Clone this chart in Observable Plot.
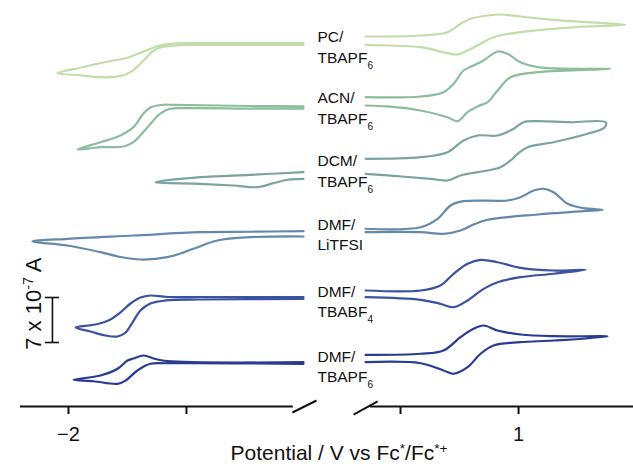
<!DOCTYPE html>
<html><head><meta charset="utf-8">
<script src="https://cdn.jsdelivr.net/npm/d3@7"></script>
<script src="https://cdn.jsdelivr.net/npm/@observablehq/plot@0.6"></script>
<style>body{margin:0;background:#fff;}</style>
</head><body><div id="chart"></div>
<script>
// ---- categories / labels ----
const traces = ["PC/TBAPF6", "ACN/TBAPF6", "DCM/TBAPF6", "DMF/LiTFSI", "DMF/TBABF4", "DMF/TBAPF6"];
const labelTop = ["PC/", "ACN/", "DCM/", "DMF/", "DMF/", "DMF/"];
const labelBottom = ["TBAPF_{6}", "TBAPF_{6}", "TBAPF_{6}", "LiTFSI", "TBABF_{4}", "TBAPF_{6}"];
const labelCurrent = [55.8, 46.3, 36.5, 26.6, 16.2, 6.1];   // 1e-7 A (stacked)
const labelPotential = -0.945;
const palette = ["#c2dda9", "#8dbd9c", "#7aa4a3", "#6489ab", "#3a52a0", "#2a3c90"];

// ---- CV loops: [potential / V vs Fc*/Fc*+, current / 1e-7 A (with stacking offset)] ----
const pcRed = [[-1.004,56.5],[-1.229,56.5],[-1.441,56.5],[-1.555,56.45],[-1.610,56.14],[-1.661,55.52],[-1.703,54.9],[-1.750,54.23],[-1.822,53.73],[-1.936,52.8],[-2.047,51.84],[-1.962,51.55],[-1.864,51.21],[-1.801,51.27],[-1.758,51.63],[-1.729,52.18],[-1.682,53.81],[-1.644,55.21],[-1.610,55.83],[-1.568,56.07],[-1.496,56.22],[-1.229,56.22],[-1.004,56.22]];
const pcOx = [[0.352,57.54],[0.585,57.7],[0.699,58.21],[0.754,59.52],[0.797,60.3],[0.869,60.81],[0.924,60.96],[1.008,60.65],[1.148,60.14],[1.292,59.77],[1.453,59.36],[1.292,59.1],[1.148,58.74],[1.008,58.21],[0.894,57.43],[0.826,56.14],[0.784,55.37],[0.742,54.74],[0.699,54.95],[0.585,55.88],[0.445,56.14],[0.352,56.25]];
const acnRed = [[-1.004,46.66],[-1.229,46.73],[-1.555,46.92],[-1.610,46.89],[-1.653,46.5],[-1.682,45.57],[-1.725,43.44],[-1.780,42.15],[-1.864,41.1],[-1.962,39.97],[-1.864,40.33],[-1.767,40.44],[-1.725,41.1],[-1.665,43.44],[-1.610,45.57],[-1.568,46.3],[-1.496,46.39],[-1.229,46.34],[-1.004,46.34]];
const acnOx = [[0.352,48.1],[0.585,48.21],[0.682,48.88],[0.725,50.19],[0.767,52.25],[0.809,53.03],[0.852,53.81],[0.911,55.21],[0.953,54.85],[1.008,53.55],[1.081,52.77],[1.22,52.52],[1.39,52.52],[1.22,52.25],[1.081,51.99],[0.966,51.21],[0.911,49.14],[0.869,47.32],[0.826,46.66],[0.784,45.77],[0.742,44.37],[0.699,44.99],[0.585,46.03],[0.445,46.66],[0.352,46.81]];
const dcmRed = [[-1.004,36.44],[-1.229,36.03],[-1.441,35.66],[-1.631,34.88],[-1.441,34.63],[-1.301,34.37],[-1.199,34.11],[-1.131,34.73],[-1.072,35.26],[-1.004,35.41]];
const dcmOx = [[0.352,38.52],[0.585,38.77],[0.699,39.55],[0.767,41.37],[0.826,42.15],[0.911,42.15],[0.979,43.19],[1.021,44.21],[1.081,44.37],[1.22,44.21],[1.369,44.21],[1.364,43.39],[1.292,42.41],[1.148,41.1],[1.038,40.33],[0.996,39.3],[0.966,38.26],[0.924,37.22],[0.869,36.7],[0.754,35.93],[0.699,35.15],[0.627,35.41],[0.445,35.93],[0.352,36.19]];
const litRed = [[-1.004,27.26],[-1.229,27.18],[-1.441,27.11],[-1.725,26.59],[-2.004,26.08],[-2.153,25.66],[-2.004,25.04],[-1.864,24.0],[-1.78,23.25],[-1.695,22.86],[-1.581,23.22],[-1.47,24.53],[-1.369,25.82],[-1.229,26.33],[-1.004,26.44]];
const litOx = [[0.352,27.64],[0.585,27.88],[0.657,29.19],[0.712,31.26],[0.767,31.93],[0.953,32.04],[1.008,32.55],[1.064,33.59],[1.106,33.86],[1.148,33.33],[1.208,31.52],[1.275,30.84],[1.356,30.59],[1.275,30.37],[1.081,29.86],[0.869,29.04],[0.809,28.3],[0.754,27.37],[0.682,26.86],[0.585,27.11],[0.352,27.11]];
const bf4Red = [[-1.004,17.03],[-1.441,17.03],[-1.581,17.03],[-1.653,17.26],[-1.695,16.95],[-1.737,16.02],[-1.78,14.62],[-1.831,13.37],[-1.886,12.75],[-1.97,12.29],[-1.907,11.66],[-1.843,11.04],[-1.792,10.89],[-1.758,11.51],[-1.729,13.06],[-1.695,14.93],[-1.653,16.02],[-1.589,16.49],[-1.441,16.64],[-1.004,16.72]];
const bf4Ox = [[0.352,18.04],[0.585,18.04],[0.669,18.82],[0.725,20.64],[0.784,22.19],[0.839,22.81],[0.911,22.44],[1.008,21.57],[1.148,21.15],[1.284,21.26],[1.148,20.64],[1.008,20.11],[0.911,19.33],[0.852,18.3],[0.784,16.49],[0.725,15.44],[0.669,15.97],[0.585,16.59],[0.352,17.0]];
const pf6Red = [[-1.004,6.89],[-1.581,7.05],[-1.631,7.39],[-1.682,7.93],[-1.725,7.46],[-1.75,7.15],[-1.792,5.86],[-1.864,4.82],[-1.979,4.15],[-1.894,3.93],[-1.792,3.53],[-1.758,4.04],[-1.708,5.6],[-1.653,6.64],[-1.581,6.73],[-1.004,6.64]];
const pf6Ox = [[0.352,8.04],[0.585,8.2],[0.682,8.71],[0.754,10.78],[0.809,12.08],[0.852,12.6],[0.911,11.82],[1.008,11.2],[1.148,10.93],[1.377,10.89],[1.148,10.26],[1.008,10.0],[0.894,9.49],[0.839,8.2],[0.784,6.11],[0.725,5.09],[0.682,5.6],[0.585,6.73],[0.352,6.89]];

// ---- axis (broken potential axis) ----
const xTicks = [-2, -1.5, 0.5, 1];
const xTickLabels = ["\u22122", "", "", "1"];
const axisSegments = [[-2.2034, -1.047], [0.373, 1.487]];
const breakMarks = [[-1.051, -0.93, -0.949, 0.93], [0.301, -1.25, 0.403, 0.78]];
const xBreakDomain = [-2.2034, -0.932, 0.288, 1.487];
const xBreakRange = [20, 320, 350, 633];
const scaleBar = {potential: -2.068, from: 9.95, size: 7, capHalf: 0.03};
const yLabel = "7 x 10^{-7} A";
const yLabelPos = {potential: -2.146, current: 16.0};
const xLabel = "Potential / V vs Fc^{*}/Fc^{*+}";

const loops = [[pcRed, pcOx], [acnRed, acnOx], [dcmRed, dcmOx], [litRed, litOx], [bf4Red, bf4Ox], [pf6Red, pf6Ox]];
const rows = [];
traces.forEach((t, i) => loops[i].forEach((seg, j) => seg.forEach(([v, c]) => rows.push({trace: t, seg: t + "-" + j, V: v, I: c}))));

const font = "Arial, 'Liberation Sans', Helvetica, sans-serif";
const ink = "#111";

const chart = Plot.plot({
  width: 633, height: 467,
  marginLeft: 0, marginRight: 0, marginTop: 0, marginBottom: 61,
  style: {fontFamily: font, background: "#fff", color: ink},
  x: {type: "linear", domain: xBreakDomain, range: xBreakRange},
  y: {domain: [0, 63.14], axis: null},
  color: {domain: traces, range: palette},
  marks: [
    Plot.line(rows, {x: "V", y: "I", z: "seg", stroke: "trace", strokeWidth: 2.2, curve: "catmull-rom"}),
    Plot.ruleY(axisSegments, {y: 0, x1: d => d[0], x2: d => d[1], stroke: ink, strokeWidth: 2}),
    Plot.link(breakMarks, {x1: d => d[0], y1: d => d[1], x2: d => d[2], y2: d => d[3], stroke: ink, strokeWidth: 2}),
    Plot.axisX(xTicks, {anchor: "bottom", tickSize: 8, tickPadding: 12, fontSize: 20, strokeWidth: 2, stroke: ink,
      tickFormat: d => xTickLabels[xTicks.indexOf(d)], label: null}),
    Plot.ruleX([scaleBar], {x: d => d.potential, y1: d => d.from, y2: d => d.from + d.size, stroke: ink, strokeWidth: 1.6}),
    Plot.ruleY([scaleBar, scaleBar], {y: (d, i) => d.from + i * d.size, x1: d => d.potential - d.capHalf, x2: d => d.potential + d.capHalf, stroke: ink, strokeWidth: 1.6}),
    Plot.text([yLabel], {x: () => yLabelPos.potential, y: () => yLabelPos.current, text: d => d, rotate: -90, fontSize: 22, fill: ink}),
    Plot.text(traces, {x: () => labelPotential, y: (d, i) => labelCurrent[i], text: (d, i) => labelTop[i], dy: -10.5, textAnchor: "start", fontSize: 15.5, fill: ink}),
    Plot.text(traces, {x: () => labelPotential, y: (d, i) => labelCurrent[i], text: (d, i) => labelBottom[i], dy: 10, textAnchor: "start", fontSize: 15.5, fill: ink}),
    Plot.text([xLabel], {frameAnchor: "bottom", text: d => d, dx: 22, dy: 53, fontSize: 21, fill: ink})
  ]
});

// render _{..} and ^{..} as sub/superscripts
d3.select(chart).selectAll("text").each(function () {
  const t = this.textContent;
  if (!/[_^]\{/.test(t)) return;
  const parts = t.split(/([_^]\{[^}]*\})/).filter(s => s.length);
  const el = d3.select(this);
  el.text(null);
  parts.forEach(p => {
    const m = p.match(/^([_^])\{([^}]*)\}$/);
    if (m) {
      el.append("tspan").attr("baseline-shift", m[1] === "^" ? "super" : "sub").attr("font-size", "65%").text(m[2]);
    } else {
      el.append("tspan").text(p);
    }
  });
});

document.getElementById("chart").appendChild(chart);
</script>
</body></html>
